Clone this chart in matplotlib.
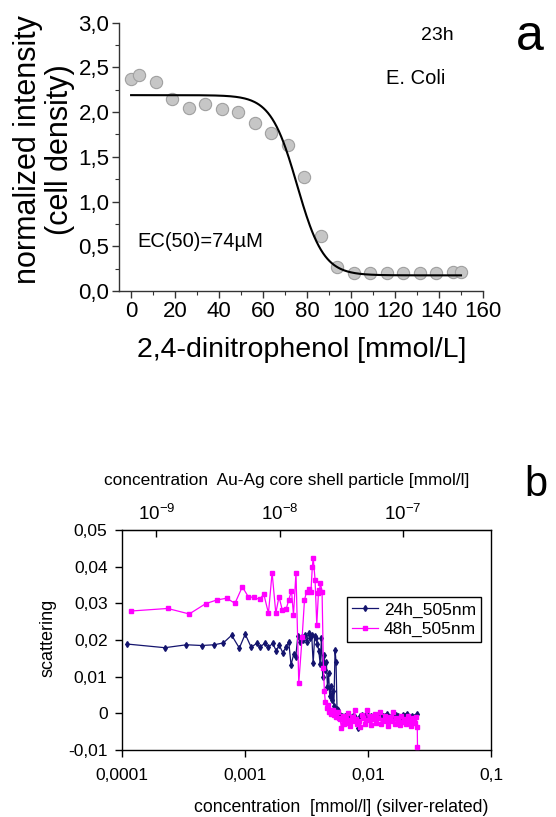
import matplotlib
matplotlib.use('Agg')
import matplotlib.pyplot as plt
from matplotlib.ticker import FuncFormatter, MultipleLocator, FixedLocator, NullLocator
import numpy as np

plt.rcParams['font.family'] = ['Liberation Sans', 'DejaVu Sans']
plt.rcParams['mathtext.default'] = 'regular'

# ---- panel a: 2,4-dinitrophenol, E. coli, 23h
dnp_conc = [0, 3.75, 11.25, 18.75, 26.25, 33.75, 41.25, 48.75, 56.25, 63.75, 71.25,
            78.75, 86.25, 93.75, 101.25, 108.75, 116.25, 123.75, 131.25, 138.75, 146.25, 150]
dnp_intensity = [2.37, 2.41, 2.34, 2.15, 2.05, 2.09, 2.03, 2.00, 1.88, 1.77, 1.635,
                 1.27, 0.61, 0.27, 0.205, 0.205, 0.20, 0.205, 0.205, 0.205, 0.21, 0.21]
# Boltzmann fit parameters (A1, A2, x0, dx)
fit_a1, fit_a2, fit_x0, fit_dx = 2.19, 0.175, 75.5, 6.0

# ---- panel b: Au-Ag core shell particles, scattering at 505 nm
conc_24h = [1.11e-4, 2.25e-4, 3.37e-4, 4.47e-4, 5.66e-4, 6.71e-4, 7.84e-4, 9.05e-4, 1.01e-3,
            1.13e-3, 1.25e-3, 1.33e-3, 1.45e-3, 1.56e-3, 1.69e-3, 1.80e-3, 1.91e-3, 2.04e-3,
            2.17e-3, 2.28e-3, 2.38e-3, 2.50e-3, 2.60e-3, 2.70e-3, 2.80e-3, 2.90e-3, 3.00e-3,
            3.10e-3, 3.20e-3, 3.30e-3, 3.40e-3, 3.50e-3, 3.60e-3, 3.70e-3, 3.80e-3, 3.90e-3,
            4.00e-3, 4.10e-3, 4.20e-3, 4.30e-3, 4.40e-3, 4.50e-3, 4.60e-3, 4.70e-3, 4.80e-3,
            4.90e-3, 5.00e-3, 5.10e-3, 5.20e-3, 5.30e-3, 5.42e-3, 5.52e-3, 5.62e-3, 5.75e-3,
            5.96e-3, 6.2e-3, 6.5e-3, 6.8e-3, 7.0e-3, 7.3e-3, 7.6e-3, 7.9e-3, 8.3e-3, 8.6e-3,
            9.0e-3, 9.4e-3, 9.8e-3, 10.2e-3, 10.7e-3, 11.1e-3, 11.6e-3, 12.1e-3, 12.6e-3,
            13.2e-3, 13.7e-3, 14.3e-3, 14.9e-3, 15.6e-3, 16.2e-3, 16.9e-3, 17.7e-3, 18.4e-3,
            19.2e-3, 20.1e-3, 20.9e-3, 21.8e-3, 22.8e-3, 23.8e-3, 24.8e-3, 25.3e-3]
scat_24h = [0.0189, 0.0179, 0.0187, 0.0185, 0.0187, 0.0192, 0.0213, 0.0178, 0.0216,
            0.0180, 0.0191, 0.0180, 0.0191, 0.0180, 0.0191, 0.0171, 0.0186, 0.0165,
            0.0182, 0.0195, 0.0132, 0.0161, 0.0154, 0.0211, 0.0195, 0.0209, 0.0200,
            0.0213, 0.0195, 0.0218, 0.0205, 0.0215, 0.0136, 0.0210, 0.0205, 0.0190,
            0.0170, 0.0135, 0.0205, 0.0100, 0.0160, 0.0118, 0.0140, 0.0073, 0.0110,
            0.0048, 0.0075, 0.0036, 0.0062, 0.0020, 0.0173, 0.0140, 0.0012, 0.0008,
            -0.0005, -0.0008, -0.0006, -0.0010, -0.0005, -0.0012, -0.0007, -0.0009, -0.0041, -0.0006,
            -0.0004, -0.0008, -0.0003, -0.0010, -0.0006, -0.0009, -0.0005, -0.0011, -0.0004,
            -0.0008, -0.0006, -0.0002, -0.0009, -0.0005, -0.0010, -0.0004, -0.0007, -0.0012,
            -0.0005, -0.0008, -0.0003, -0.0009, -0.0006, -0.0010, -0.0007, -0.0002]

conc_48h = [1.19e-4, 2.37e-4, 3.55e-4, 4.82e-4, 5.92e-4, 7.14e-4, 8.34e-4, 9.57e-4, 1.07e-3,
            1.19e-3, 1.32e-3, 1.43e-3, 1.56e-3, 1.67e-3, 1.79e-3, 1.90e-3, 2.02e-3, 2.17e-3,
            2.28e-3, 2.40e-3, 2.49e-3, 2.61e-3, 2.75e-3, 2.93e-3, 3.06e-3, 3.18e-3, 3.33e-3,
            3.45e-3, 3.54e-3, 3.60e-3, 3.73e-3, 3.85e-3, 3.97e-3, 4.05e-3, 4.12e-3, 4.25e-3,
            4.36e-3, 4.44e-3, 4.52e-3, 4.62e-3, 4.72e-3, 4.82e-3, 4.93e-3, 5.05e-3, 5.18e-3,
            5.30e-3, 5.42e-3, 5.55e-3, 5.68e-3, 5.80e-3, 5.95e-3, 6.10e-3, 6.25e-3, 6.40e-3,
            6.55e-3, 6.70e-3, 6.85e-3, 7.0e-3, 7.2e-3, 7.4e-3, 7.6e-3, 7.8e-3, 8.0e-3, 8.2e-3,
            8.5e-3, 8.7e-3, 9.0e-3, 9.2e-3, 9.5e-3, 9.8e-3, 10.1e-3, 10.4e-3, 10.7e-3, 11.0e-3,
            11.4e-3, 11.7e-3, 12.1e-3, 12.5e-3, 12.9e-3, 13.3e-3, 13.7e-3, 14.1e-3, 14.5e-3,
            15.0e-3, 15.5e-3, 16.0e-3, 16.5e-3, 17.0e-3, 17.5e-3, 18.1e-3, 18.7e-3, 19.3e-3,
            19.9e-3, 20.5e-3, 21.2e-3, 21.9e-3, 22.6e-3, 23.3e-3, 24.0e-3, 24.7e-3, 25.2e-3,
            25.3e-3]
scat_48h = [0.0279, 0.0286, 0.0271, 0.0299, 0.0309, 0.0314, 0.0300, 0.0345, 0.0318,
            0.0316, 0.0311, 0.0325, 0.0273, 0.0384, 0.0273, 0.0318, 0.0282, 0.0284,
            0.0309, 0.0335, 0.0268, 0.0384, 0.0082, 0.0209, 0.0309, 0.0332, 0.0340,
            0.0330, 0.0398, 0.0425, 0.0364, 0.0241, 0.0327, 0.0336, 0.0355, 0.0332,
            0.0125, 0.0060, 0.0030, 0.0015, 0.0022, 0.0004, 0.0010, -0.0002, 0.0008,
            -0.0005, 0.0003, -0.0010, 0.0005, -0.0012, -0.0015, -0.0040, -0.0008, -0.0030,
            -0.0012, -0.0025, 0.0002, -0.0018, -0.0035, -0.0010, -0.0022, 0.0008, -0.0015, -0.0030,
            -0.0020, -0.0038, -0.0005, -0.0012, -0.0028, 0.0010, -0.0018, -0.0008, -0.0032, -0.0015,
            -0.0003, -0.0025, -0.0012, 0.0005, -0.0030, -0.0018, -0.0008, -0.0022, -0.0035,
            -0.0010, -0.0020, 0.0003, -0.0028, -0.0012, -0.0018, -0.0032, -0.0006, -0.0024,
            -0.0015, -0.0030, -0.0008, -0.0020, -0.0035, -0.0012, -0.0026, -0.0010, -0.0038,
            -0.0092]

# top axis: particle concentration = silver-related concentration * k
particle_factor = 5.2e-6

W, H = 556, 817
fig = plt.figure(figsize=(W / 100, H / 100), dpi=100)


def fx(px):
    return px / W


def fy(py):
    return 1 - py / H


# ---------------- panel a
ax1 = fig.add_axes([fx(119), fy(291), fx(483) - fx(119), fy(22.7) - fy(291)])
ax1.scatter(dnp_conc, dnp_intensity, s=78, facecolor='#c6c6c6', edgecolor='#a0a0a0',
            linewidth=0.8, zorder=2)
xfit = np.linspace(0, 150, 300)
yfit = fit_a2 + (fit_a1 - fit_a2) / (1 + np.exp((xfit - fit_x0) / fit_dx))
ax1.plot(xfit, yfit, color='black', lw=1.5, zorder=3)

ax1.set_xlim(-5.5, 160)
ax1.set_ylim(0, 3.0)
for s in ['top', 'right']:
    ax1.spines[s].set_visible(False)
for s in ['left', 'bottom']:
    ax1.spines[s].set_linewidth(1.0)
    ax1.spines[s].set_color('#333333')
ax1.xaxis.set_major_locator(MultipleLocator(20))
ax1.xaxis.set_minor_locator(MultipleLocator(10))
ax1.yaxis.set_major_locator(MultipleLocator(0.5))
ax1.yaxis.set_minor_locator(MultipleLocator(0.25))
ax1.yaxis.set_major_formatter(FuncFormatter(lambda v, p: f'{v:.1f}'.replace('.', ',')))
ax1.tick_params(which='major', direction='out', length=5, width=1, labelsize=16, pad=2,
                color='#333333')
ax1.tick_params(which='minor', direction='out', length=3, width=0.8, color='#333333')

fig.text(fx(44), fy(150), 'normalized intensity\n(cell density)', rotation=90,
         ha='center', va='center', fontsize=22, linespacing=1.05)
fig.text(fx(302), fy(357), '2,4-dinitrophenol [mmol/L]', ha='center', va='baseline',
         fontsize=20.5)
fig.text(fx(437), fy(40.5), '23h', ha='center', va='baseline', fontsize=14)
fig.text(fx(416), fy(83.5), 'E. Coli', ha='center', va='baseline', fontsize=14.5)
fig.text(fx(137), fy(247), 'EC(50)=74\u00b5M', ha='left', va='baseline', fontsize=14.5)
fig.text(fx(530), fy(50), 'a', ha='center', va='baseline', fontsize=36)

# ---------------- panel b
ax2 = fig.add_axes([fx(121.5), fy(750), fx(491) - fx(121.5), fy(530) - fy(750)])
ax2.plot(conc_24h, scat_24h, color='#14146e', lw=0.9, marker='d', ms=3,
         mec='#14146e', mfc='#14146e', label='24h_505nm', zorder=2)
ax2.plot(conc_48h, scat_48h, color='#ff00ff', lw=0.9, marker='s', ms=2.5,
         mec='#ff00ff', mfc='#ff00ff', label='48h_505nm', zorder=3)
ax2.set_xscale('log')
ax2.set_xlim(1e-4, 1e-1)
ax2.set_ylim(-0.01, 0.05)
ax2.xaxis.set_major_locator(FixedLocator([1e-4, 1e-3, 1e-2, 1e-1]))
ax2.xaxis.set_minor_locator(NullLocator())
ax2.xaxis.set_major_formatter(FuncFormatter(
    lambda v, p: {1e-4: '0,0001', 1e-3: '0,001', 1e-2: '0,01', 1e-1: '0,1'}.get(v, '')))
ax2.yaxis.set_major_locator(MultipleLocator(0.01))
ax2.yaxis.set_major_formatter(FuncFormatter(
    lambda v, p: '0' if abs(v) < 1e-9 else f'{v:.2f}'.replace('.', ',')))
for s in ax2.spines.values():
    s.set_linewidth(1.0)
ax2.tick_params(which='major', direction='out', length=5, width=1, labelsize=12.5, pad=5)
ax2.tick_params(axis='x', pad=8)

sec = ax2.secondary_xaxis('top', functions=(lambda x: x * particle_factor,
                                             lambda x: x / particle_factor))
sec.set_xscale('log')
sec.xaxis.set_major_locator(FixedLocator([1e-9, 1e-8, 1e-7]))
sec.xaxis.set_minor_locator(NullLocator())
sec.xaxis.set_major_formatter(FuncFormatter(lambda v, p: '$10^{%d}$' % round(np.log10(v))))
sec.tick_params(which='major', direction='in', length=5, width=1, labelsize=13.5, pad=4)

leg = ax2.legend(loc='upper right', bbox_to_anchor=(0.973, 0.695), fontsize=12.5,
                 frameon=True, fancybox=False, edgecolor='black', framealpha=1,
                 handlelength=1.5, borderpad=0.3, labelspacing=0.25, handletextpad=0.3,
                 borderaxespad=0)
leg.get_frame().set_linewidth(1.0)

fig.text(fx(48), fy(638), 'scattering', rotation=90, ha='center', va='center', fontsize=13)
fig.text(fx(287), fy(481), 'concentration  Au-Ag core shell particle [mmol/l]',
         ha='center', va='center', fontsize=12.4)
fig.text(fx(489), fy(808), 'concentration  [mmol/l] (silver-related)',
         ha='right', va='center', fontsize=12.7)
fig.text(fx(536), fy(496.5), 'b', ha='center', va='baseline', fontsize=30)

fig.savefig('out.png', dpi=100)
